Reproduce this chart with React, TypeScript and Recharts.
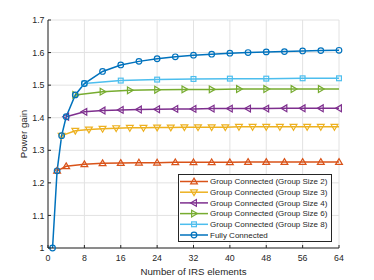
import { LineChart, Line, XAxis, YAxis, CartesianGrid, Legend } from 'recharts'

// ---------------------------------------------------------------------------
// Power gain vs. number of IRS elements, group-connected vs fully connected.
// MATLAB-style look: boxed axes, inward ticks, hollow markers.
// ---------------------------------------------------------------------------

const xTicks = [0, 8, 16, 24, 32, 40, 48, 56, 64]
const yTicks = [1, 1.1, 1.2, 1.3, 1.4, 1.5, 1.6, 1.7]

const nGroup2 = [2, 4, 8, 12, 16, 20, 24, 28, 32, 36, 40, 44, 48, 52, 56, 60, 64]
const gainGroup2 = [1.237, 1.251, 1.257, 1.26, 1.261, 1.262, 1.262, 1.263, 1.263, 1.263, 1.263, 1.264, 1.264, 1.264, 1.264, 1.264, 1.264]

const nGroup3 = [3, 6, 9, 12, 15, 18, 21, 24, 27, 30, 33, 36, 39, 42, 45, 48, 51, 54, 57, 60, 63, 64]
const gainGroup3 = [1.345, 1.36, 1.364, 1.366, 1.368, 1.369, 1.369, 1.37, 1.37, 1.371, 1.371, 1.371, 1.371, 1.372, 1.372, 1.372, 1.372, 1.372, 1.372, 1.372, 1.372, 1.372]

const nGroup4 = [4, 8, 12, 16, 20, 24, 28, 32, 36, 40, 44, 48, 52, 56, 60, 64]
const gainGroup4 = [1.403, 1.418, 1.422, 1.424, 1.425, 1.426, 1.427, 1.427, 1.428, 1.428, 1.428, 1.428, 1.429, 1.429, 1.429, 1.429]

const nGroup6 = [6, 12, 18, 24, 30, 36, 42, 48, 54, 60, 64]
const gainGroup6 = [1.47, 1.48, 1.484, 1.486, 1.487, 1.487, 1.488, 1.488, 1.488, 1.488, 1.488]

const nGroup8 = [8, 16, 24, 32, 40, 48, 56, 64]
const gainGroup8 = [1.505, 1.514, 1.517, 1.519, 1.52, 1.52, 1.521, 1.521]

const nFull = [1, 2, 3, 4, 6, 8, 12, 16, 20, 24, 28, 32, 36, 40, 44, 48, 52, 56, 60, 64]
const gainFull = [1.0, 1.237, 1.345, 1.403, 1.47, 1.505, 1.542, 1.562, 1.573, 1.581, 1.587, 1.592, 1.595, 1.598, 1.6, 1.602, 1.603, 1.605, 1.606, 1.607]

const FONT = '"Liberation Sans", Arial, Helvetica, sans-serif'
const INK = '#262626'

type Shape = 'up' | 'down' | 'left' | 'right' | 'square' | 'circle'

const toRows = (n: number[], g: number[]) => n.map((v, i) => ({ n: v, gain: g[i] }))

// step: a marker is drawn only where n is a multiple of the group size
const series = [
  { name: 'Group Connected (Group Size 2)', data: toRows(nGroup2, gainGroup2), color: '#D95319', shape: 'up' as Shape, step: 2 },
  { name: 'Group Connected (Group Size 3)', data: toRows(nGroup3, gainGroup3), color: '#EDB120', shape: 'down' as Shape, step: 3 },
  { name: 'Group Connected (Group Size 4)', data: toRows(nGroup4, gainGroup4), color: '#7E2F8E', shape: 'left' as Shape, step: 4 },
  { name: 'Group Connected (Group Size 6)', data: toRows(nGroup6, gainGroup6), color: '#77AC30', shape: 'right' as Shape, step: 6 },
  { name: 'Group Connected (Group Size 8)', data: toRows(nGroup8, gainGroup8), color: '#4DBEEE', shape: 'square' as Shape, step: 8 },
  { name: 'Fully Connected', data: toRows(nFull, gainFull), color: '#0072BD', shape: 'circle' as Shape, step: 1 },
]

function Marker({ shape, cx, cy, color }: { shape: Shape; cx: number; cy: number; color: string }) {
  const s = 3.4
  const common = { fill: 'none', stroke: color, strokeWidth: 1.2 }
  if (shape === 'circle') return <circle cx={cx} cy={cy} r={2.8} {...common} />
  if (shape === 'square') return <rect x={cx - 2.4} y={cy - 2.4} width={4.8} height={4.8} {...common} />
  let pts = ''
  if (shape === 'up') pts = `${cx},${cy - s} ${cx + s},${cy + s * 0.7} ${cx - s},${cy + s * 0.7}`
  if (shape === 'down') pts = `${cx},${cy + s} ${cx + s},${cy - s * 0.7} ${cx - s},${cy - s * 0.7}`
  if (shape === 'left') pts = `${cx - s},${cy} ${cx + s * 0.7},${cy - s} ${cx + s * 0.7},${cy + s}`
  if (shape === 'right') pts = `${cx + s},${cy} ${cx - s * 0.7},${cy - s} ${cx - s * 0.7},${cy + s}`
  return <polygon points={pts} {...common} strokeLinejoin="miter" />
}

const fmtY = (v: number) => (v === 1 ? '1' : v.toFixed(1))

function BottomTick({ x, y, payload }: any) {
  return (
    <g>
      <line x1={x} y1={y} x2={x} y2={y - 3} stroke={INK} />
      <text x={x} y={y + 13} textAnchor="middle" fontSize={8.8} fill={INK} fontFamily={FONT}>
        {payload.value}
      </text>
    </g>
  )
}

function TopTick({ x, y }: any) {
  return <line x1={x} y1={y} x2={x} y2={y + 3} stroke={INK} />
}

function LeftTick({ x, y, payload }: any) {
  return (
    <g>
      <line x1={x} y1={y} x2={x + 3} y2={y} stroke={INK} />
      <text x={x - 3.5} y={y} dy="0.35em" textAnchor="end" fontSize={8.8} fill={INK} fontFamily={FONT}>
        {fmtY(payload.value)}
      </text>
    </g>
  )
}

function RightTick({ x, y }: any) {
  return <line x1={x} y1={y} x2={x - 3} y2={y} stroke={INK} />
}

function YTitle({ viewBox }: any) {
  const cy = viewBox.y + viewBox.height / 2
  return (
    <text x={27} y={cy} transform={`rotate(-90, 27, ${cy})`} textAnchor="middle" fontSize={9.7} fill={INK} fontFamily={FONT}>
      Power gain
    </text>
  )
}

function XTitle({ viewBox }: any) {
  return (
    <text x={viewBox.x + viewBox.width / 2} y={274.7} textAnchor="middle" fontSize={9.7} fill={INK} fontFamily={FONT}>
      Number of IRS elements
    </text>
  )
}

function LegendBox() {
  return (
    <svg width={155} height={69} style={{ display: 'block' }}>
      <rect x={0.5} y={0.5} width={153} height={67} fill="#fff" stroke={INK} strokeWidth={1} />
      {series.map((s, i) => {
        const y = 7.5 + i * 10.7
        return (
          <g key={s.name}>
            <line x1={2} x2={30} y1={y} y2={y} stroke={s.color} strokeWidth={1.5} />
            <Marker shape={s.shape} cx={16} cy={y} color={s.color} />
            <text x={32} y={y} dy="0.35em" fontSize={8} fill={INK} fontFamily={FONT}>
              {s.name}
            </text>
          </g>
        )
      })}
    </svg>
  )
}

export default function App() {
  return (
    <div style={{ position: 'absolute', left: 0, top: 0, width: 374, height: 280, background: '#fff' }}>
      <LineChart width={374} height={280} margin={{ top: 20, right: 35, bottom: 0, left: 0 }}>
        <CartesianGrid xAxisId="b" yAxisId="l" stroke="#e2e2e2" strokeWidth={1} />
        <XAxis
          xAxisId="b"
          dataKey="n"
          type="number"
          domain={[0, 64]}
          ticks={xTicks}
          height={32}
          tickSize={0}
          tickMargin={0}
          tickLine={false}
          tick={BottomTick}
          axisLine={{ stroke: INK }}
          label={<XTitle />}
        />
        <XAxis
          xAxisId="t"
          orientation="top"
          type="number"
          domain={[0, 64]}
          ticks={xTicks}
          height={0}
          tickSize={0}
          tickMargin={0}
          tickLine={false}
          tick={TopTick}
          axisLine={{ stroke: INK }}
        />
        <YAxis
          yAxisId="l"
          type="number"
          domain={[1, 1.7]}
          ticks={yTicks}
          width={48}
          tickSize={0}
          tickMargin={0}
          tickLine={false}
          tick={LeftTick}
          axisLine={{ stroke: INK }}
          label={<YTitle />}
        />
        <YAxis
          yAxisId="r"
          orientation="right"
          type="number"
          domain={[1, 1.7]}
          ticks={yTicks}
          width={0}
          tickSize={0}
          tickMargin={0}
          tickLine={false}
          tick={RightTick}
          axisLine={{ stroke: INK }}
        />
        {series.map((s) => (
          <Line
            key={s.name}
            xAxisId="b"
            yAxisId="l"
            data={s.data}
            dataKey="gain"
            name={s.name}
            type="linear"
            stroke={s.color}
            strokeWidth={1.5}
            isAnimationActive={false}
            activeDot={false}
            dot={(p: any) =>
              p.payload.n % s.step === 0 ? (
                <Marker key={`${s.name}-${p.index}`} shape={s.shape} cx={p.cx} cy={p.cy} color={s.color} />
              ) : (
                <g key={`${s.name}-${p.index}`} />
              )
            }
          />
        ))}
        <Legend
          layout="vertical"
          align="center"
          verticalAlign="middle"
          content={() => <LegendBox />}
          wrapperStyle={{ left: 178, top: 174, width: 155, height: 69, margin: 0, padding: 0 }}
        />
      </LineChart>
    </div>
  )
}
